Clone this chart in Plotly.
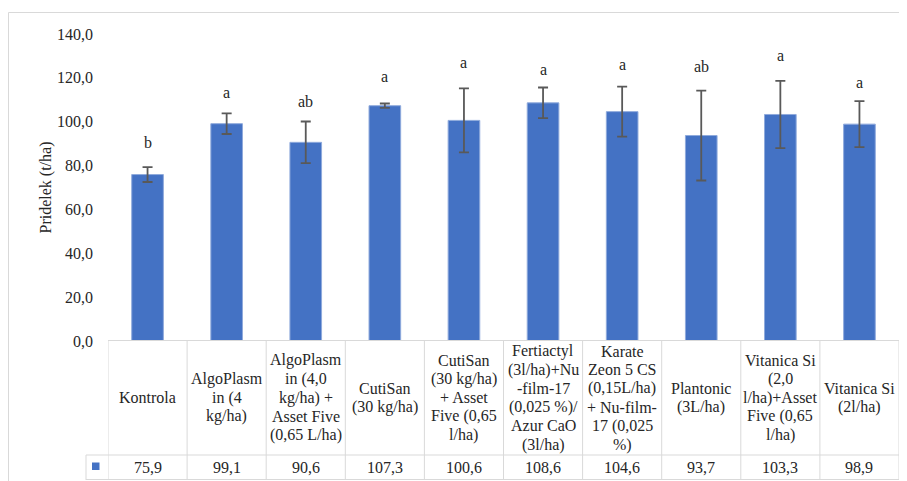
import plotly.graph_objects as go

categories = [
    "Kontrola",
    "AlgoPlasm\nin (4\nkg/ha)",
    "AlgoPlasm\nin (4,0\nkg/ha) +\nAsset Five\n(0,65 L/ha)",
    "CutiSan\n(30 kg/ha)",
    "CutiSan\n(30 kg/ha)\n+ Asset\nFive (0,65\nl/ha)",
    "Fertiactyl\n(3l/ha)+Nu\n-film-17\n(0,025 %)/\nAzur CaO\n(3l/ha)",
    "Karate\nZeon 5 CS\n(0,15L/ha)\n+ Nu-film-\n17 (0,025\n%)",
    "Plantonic\n(3L/ha)",
    "Vitanica Si\n(2,0\nl/ha)+Asset\nFive (0,65\nl/ha)",
    "Vitanica Si\n(2l/ha)",
]
values = [75.9, 99.1, 90.6, 107.3, 100.6, 108.6, 104.6, 93.7, 103.3, 98.9]
errors = [3.4, 4.7, 9.5, 1.0, 14.6, 7.0, 11.4, 20.5, 15.3, 10.5]
letters = ["b", "a", "ab", "a", "a", "a", "a", "ab", "a", "a"]
letter_y = [90.3, 113.1, 109.4, 120.8, 126.8, 124.0, 126.3, 125.4, 130.4, 118.1]
y_ticks = [0, 20, 40, 60, 80, 100, 120, 140]

# page offset (browser body margin)
OFF = 8
W, H = 907 - OFF, 481 - OFF
# plot area in page pixels
L, R, T, B = 108, 899, 34, 341
FONT = "Liberation Serif"
BLUE = "#4472C4"
GRID = "#D9D9D9"
TXT = "#262626"

def py(ypx):
    return (B - ypx) / (B - T)

def px(xpx):
    return (xpx - L) / (R - L)

n = len(categories)
xs = list(range(n))

fig = go.Figure()
fig.add_trace(go.Bar(
    x=xs, y=values,
    marker=dict(color=BLUE, line=dict(color="#8FAADC", width=1)),
    error_y=dict(type="data", array=errors, visible=True,
                 color="#595959", thickness=1.8, width=5),
    showlegend=False, hoverinfo="skip",
))

annotations = []
for i, (lt, ly) in enumerate(zip(letters, letter_y)):
    annotations.append(dict(x=i, y=ly, xref="x", yref="y", text=lt, showarrow=False,
                            font=dict(family=FONT, size=16, color=TXT),
                            xanchor="center", yanchor="middle"))

annotations.append(dict(x=px(45), y=py(187.5), xref="paper", yref="paper",
                        text="Pridelek (t/ha)", textangle=-90, showarrow=False,
                        font=dict(family=FONT, size=16, color=TXT),
                        xanchor="center", yanchor="middle"))

hdr_top, hdr_bot, val_bot = 340.5, 455, 480
hdr_mid = (hdr_top + hdr_bot) / 2
line_h = 18.7
for i, lab in enumerate(categories):
    lines = lab.split("\n")
    k = len(lines)
    for j, ln in enumerate(lines):
        ypx = hdr_mid + (j - (k - 1) / 2) * line_h
        annotations.append(dict(x=i, y=py(ypx), xref="x", yref="paper", text=ln,
                                showarrow=False, font=dict(family=FONT, size=16, color=TXT),
                                xanchor="center", yanchor="middle"))
for i, v in enumerate(values):
    annotations.append(dict(x=i, y=py(467), xref="x", yref="paper",
                            text=f"{v:.1f}".replace(".", ","), showarrow=False,
                            font=dict(family=FONT, size=16, color=TXT),
                            xanchor="center", yanchor="middle"))

shapes = []
line = dict(color=GRID, width=1)
shapes.append(dict(type="rect", xref="paper", yref="paper",
                   x0=px(8.5), x1=px(930), y0=py(495), y1=py(12.5), line=line))
shapes.append(dict(type="line", xref="paper", yref="paper", x0=0, x1=1,
                   y0=py(hdr_top), y1=py(hdr_top), line=line))
shapes.append(dict(type="line", xref="paper", yref="paper", x0=px(86), x1=1,
                   y0=py(hdr_bot), y1=py(hdr_bot), line=line))
shapes.append(dict(type="line", xref="paper", yref="paper", x0=px(86), x1=1,
                   y0=py(val_bot - 0.5), y1=py(val_bot - 0.5), line=line))
for i in range(n + 1):
    shapes.append(dict(type="line", xref="x", yref="paper", x0=i - 0.5, x1=i - 0.5,
                       y0=py(hdr_top), y1=py(val_bot), line=line))
shapes.append(dict(type="line", xref="paper", yref="paper", x0=px(86), x1=px(86),
                   y0=py(hdr_bot), y1=py(val_bot), line=line))
shapes.append(dict(type="rect", xref="paper", yref="paper",
                   x0=px(92), x1=px(99.5), y0=py(470), y1=py(462.5),
                   fillcolor=BLUE, line=dict(width=0)))

fig.update_layout(
    width=W, height=H,
    margin=dict(l=L - OFF, r=W - (R - OFF), t=T - OFF, b=H - (B - OFF), pad=0),
    paper_bgcolor="white", plot_bgcolor="white",
    separators=", ",
    bargap=0.6,
    xaxis=dict(range=[-0.5, n - 0.5], showticklabels=False, showgrid=False,
               zeroline=False, showline=False, ticks=""),
    yaxis=dict(range=[0, 140], tickvals=y_ticks, tickformat=".1f", showgrid=False,
               zeroline=False, showline=False, ticks="", ticklabelstandoff=14,
               tickfont=dict(family=FONT, size=16, color=TXT)),
    annotations=annotations,
    shapes=shapes,
)

fig.write_html("out.html")
